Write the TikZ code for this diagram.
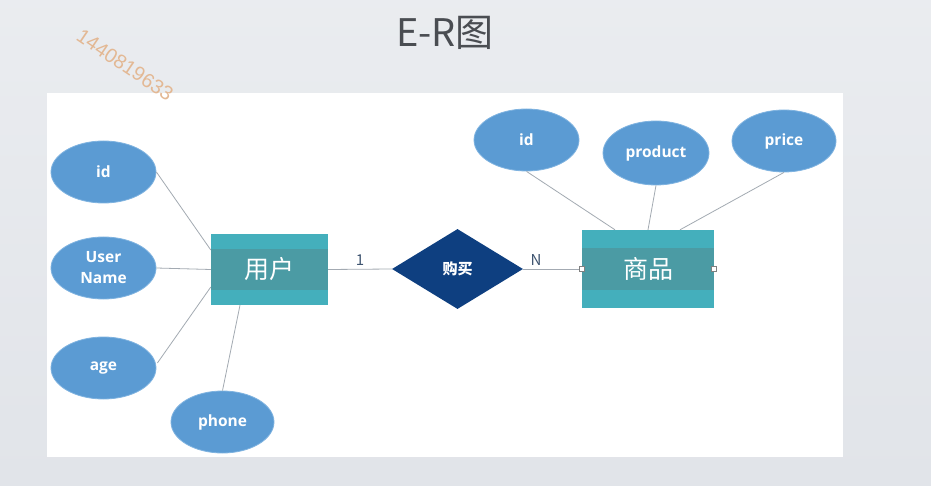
\documentclass[tikz,border=0pt]{standalone}
\usepackage{fontspec}
\setmainfont{Noto Sans CJK SC}
\newfontfamily\cjk{Noto Sans CJK SC}
\newfontfamily\attrfont{Open Sans}
\newfontfamily\wmfont{Liberation Sans}
\usetikzlibrary{shapes.geometric,calc}
\definecolor{bgc}{HTML}{E1E4E9}
\definecolor{attrc}{HTML}{5B9BD3}
\definecolor{attre}{HTML}{7FB3E0}
\definecolor{entl}{HTML}{44AFBC}
\definecolor{entd}{HTML}{4B9BA4}
\definecolor{relc}{HTML}{0E3F80}
\definecolor{linec}{HTML}{A3AAB2}
\definecolor{titc}{HTML}{4A4D52}
\definecolor{wmc}{HTML}{E3B894}
\definecolor{cardc}{HTML}{3E5470}
\tikzset{
  attr/.style={ellipse, fill=attrc, draw=attre, line width=0.8pt, minimum width=105pt, minimum height=62pt, inner sep=0pt, text=white, font=\attrfont\bfseries\fontsize{15.5}{21}\selectfont, align=center},
  entbox/.style={rectangle, inner sep=0pt, text=white, font=\cjk\fontsize{25}{27}\selectfont},
  rel/.style={diamond, fill=relc, inner sep=0pt, minimum width=131pt, minimum height=80pt, aspect=1.64, text=white, font=\cjk\bfseries\fontsize{15}{16}\selectfont},
  conn/.style={draw=linec, line width=0.8pt},
  card/.style={text=cardc, font=\fontsize{15}{16}\selectfont},
  handle/.style={rectangle, draw=gray, fill=white, minimum size=5pt, inner sep=0pt, line width=0.5pt}
}
\begin{document}
\begin{tikzpicture}[x=1pt,y=-1pt]
\useasboundingbox (0,0) rectangle (931,486);
\shade[top color=bgc!70!white, bottom color=bgc] (0,0) rectangle (931,486);
\fill[white] (47,93) rectangle (843,457);
\node[text=titc, font=\cjk\fontsize{38}{40}\selectfont] (title) at (445,33) {E-R图};
\node[rotate=-34, text=wmc, font=\wmfont\fontsize{20}{21}\selectfont] (wm) at (125,65) {1440819633};
% entities
\node[entbox, minimum width=117pt, minimum height=71pt] (user) at (269.5,269.5) {};
\fill[entl] (user.north west) rectangle (user.south east);
\fill[entd] ($(user.west)+(0,-20.5)$) rectangle ($(user.east)+(0,20)$);
\node[entbox] (usert) at (user.center) {用户};
\node[entbox, minimum width=132pt, minimum height=78pt] (shop) at (648,269) {};
\fill[entl] (shop.north west) rectangle (shop.south east);
\fill[entd] ($(shop.west)+(0,-21)$) rectangle ($(shop.east)+(0,21)$);
\node[entbox] (shopt) at (shop.center) {商品};
% relationship
\node[rel] (buy) at (457.5,269) {购买};
% attributes
\node[attr] (uid) at (103.5,172) {id};
\node[attr] (uname) at (103.5,268) {User\\Name};
\node[attr] (uage) at (103.5,368) {age};
\node[attr, minimum width=103pt] (uphone) at (222.5,422) {phone};
\node[attr] (pid) at (526.5,140) {id};
\node[attr, minimum width=106pt, minimum height=64pt] (pprod) at (656,153) {product};
\node[attr, minimum width=104pt] (pprice) at (784,141) {price};
% connectors
\draw[conn] (uid.east) -- ($(user.west)+(0,-19.5)$);
\draw[conn] (uname.east) -- (user.west);
\draw[conn] ($(uage.east)+(1,-5)$) -- ($(user.west)+(0,17.5)$);
\draw[conn] (uphone.north) -- ($(user.south)+(-29.5,0)$);
\draw[conn] (pid.south) -- ($(shop.north)+(-33,0)$);
\draw[conn] (pprod.south) -- (shop.north);
\draw[conn] (pprice.south) -- ($(shop.north)+(32,0)$);
\draw[conn] (user.east) -- node[card, pos=0.5, above=0pt] (c1) {1} (buy.west);
\draw[conn] (buy.east) -- node[card, pos=0.22, above=0pt] (cn) {N} (shop.west);
\node[handle] (h1) at (shop.west) {};
\node[handle] (h2) at (shop.east) {};
\end{tikzpicture}
\end{document}
